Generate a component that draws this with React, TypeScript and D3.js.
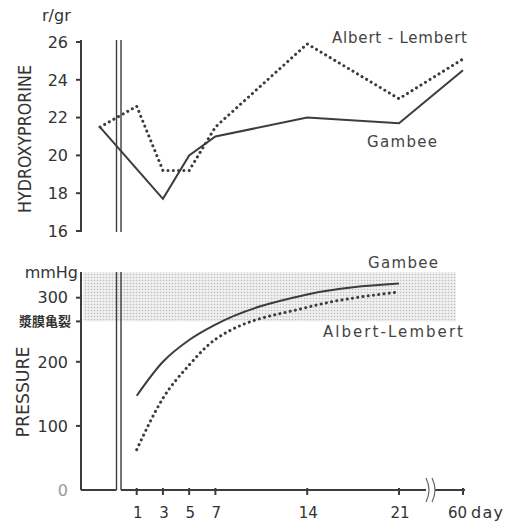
import React from "react";
import * as d3 from "d3";

// ---- data ----
const dayPos = [0, 1, 3, 5, 7, 14, 21, 60]; // 0 = pre-operative value
const dayLabels = ["", "1", "3", "5", "7", "14", "21", "60"];
const hypGambee: (number | null)[] = [21.5, null, 17.7, 20.0, 21.0, 22.0, 21.7, 24.5];
const hypAlbert: (number | null)[] = [21.5, 22.6, 19.2, 19.2, 21.5, 25.9, 23.0, 25.1];
const presGambee: (number | null)[] = [null, 147, 200, 234, 258, 305, 322, null];
const presAlbert: (number | null)[] = [null, 63, 143, 195, 235, 285, 309, null];
const hypTicks = [16, 18, 20, 22, 24, 26];
const presTicks = [0, 100, 200, 300];
const serosaValue = 263;
const presTop = 340;
const serosaLabel = "漿膜亀裂";

const INK = "#3c3c3c";
const TXT = "#333";
const FONT = "'DejaVu Sans', sans-serif";

export default function App() {
  const x = d3.scaleLinear().domain([0, 1, 21, 60]).range([100, 136.7, 399, 463]);
  const yTop = d3.scaleLinear().domain([16, 26]).range([231, 42]);
  const yBot = d3.scaleLinear().domain([0, 300]).range([490, 297.7]);

  const mk = (vals: (number | null)[], y: d3.ScaleLinear<number, number>, curve: d3.CurveFactory) => {
    const pts = dayPos
      .map((d, i) => [d, vals[i]] as [number, number | null])
      .filter((p) => p[1] != null) as [number, number][];
    return (
      d3
        .line<[number, number]>()
        .x((p) => x(p[0]))
        .y((p) => y(p[1]))
        .curve(curve)(pts) || ""
    );
  };

  const axisX = 81;
  const dbl1 = 116.5;
  const dbl2 = 121;
  const topY0 = yTop(26) - 2;
  const topY1 = yTop(16) + 1;
  const botY0 = yBot(presTop);
  const botY1 = yBot(0);
  const breakX = 428;

  const dotted = { strokeDasharray: "0.1 5.2", strokeLinecap: "round" as const, strokeWidth: 3 };

  return (
    <svg width={510} height={523} style={{ position: "absolute", left: 0, top: 0, background: "#fff" }} fontFamily={FONT}>
      <defs>
        <pattern id="stip" width={3} height={3} patternUnits="userSpaceOnUse">
          <rect width={3} height={3} fill="#f0f0f0" />
          <circle cx={1.5} cy={1.5} r={0.8} fill="#bdbdbd" />
        </pattern>
      </defs>

      {/* ---------- top panel ---------- */}
      <text x={42} y={21} fontSize={16} fill={TXT}>r/gr</text>
      <text
        transform={`translate(31,139) rotate(-90)`}
        textAnchor="middle"
        fontSize={17}
        fill={TXT}
        textLength={148}
        lengthAdjust="spacingAndGlyphs"
      >
        HYDROXYPRORINE
      </text>
      <line x1={axisX} x2={axisX} y1={topY0} y2={topY1} stroke={INK} strokeWidth={2} />
      {hypTicks.map((t) => (
        <g key={t}>
          <line x1={axisX - 5} x2={axisX} y1={yTop(t)} y2={yTop(t)} stroke={INK} strokeWidth={2} />
          <text x={68} y={yTop(t)} dy="0.36em" textAnchor="end" fontSize={16} fill={TXT}>
            {t}
          </text>
        </g>
      ))}
      <path d={mk(hypGambee, yTop, d3.curveLinear)} fill="none" stroke={INK} strokeWidth={2} />
      <path d={mk(hypAlbert, yTop, d3.curveLinear)} fill="none" stroke={INK} {...dotted} />
      <line x1={dbl1} x2={dbl1} y1={topY0} y2={topY1} stroke={INK} strokeWidth={1.4} />
      <line x1={dbl2} x2={dbl2} y1={topY0} y2={topY1} stroke={INK} strokeWidth={1.4} />
      <text x={332} y={43} fontSize={15} fill="#444" textLength={135} lengthAdjust="spacing">
        Albert - Lembert
      </text>
      <text x={367} y={147} fontSize={15} fill="#444" textLength={70} lengthAdjust="spacing">
        Gambee
      </text>

      {/* ---------- bottom panel ---------- */}
      <rect x={axisX + 2} y={botY0} width={456 - axisX - 2} height={yBot(serosaValue) - botY0} fill="url(#stip)" />
      <text x={78} y={botY0 + 6} textAnchor="end" fontSize={16} fill={TXT}>mmHg</text>
      <text
        transform={`translate(29,392) rotate(-90)`}
        textAnchor="middle"
        fontSize={17}
        fill={TXT}
        textLength={91}
        lengthAdjust="spacingAndGlyphs"
      >
        PRESSURE
      </text>
      <line x1={axisX} x2={axisX} y1={botY0} y2={botY1} stroke={INK} strokeWidth={2} />
      {presTicks.map((t) => (
        <g key={t}>
          {t > 0 && <line x1={axisX - 5} x2={axisX} y1={yBot(t)} y2={yBot(t)} stroke={INK} strokeWidth={2} />}
          <text x={68} y={yBot(t)} dy="0.36em" textAnchor="end" fontSize={16} fill={t === 0 ? "#999" : TXT}>
            {t}
          </text>
        </g>
      ))}
      <line x1={axisX - 5} x2={axisX} y1={yBot(serosaValue)} y2={yBot(serosaValue)} stroke={INK} strokeWidth={2} />
      <text
        x={71}
        y={yBot(serosaValue)}
        dy="0.36em"
        textAnchor="end"
        fontSize={13}
        fontWeight="bold"
        fontFamily="'Noto Sans CJK JP', sans-serif"
        fill={TXT}
      >
        {serosaLabel}
      </text>

      <path d={mk(presGambee, yBot, d3.curveMonotoneX)} fill="none" stroke={INK} strokeWidth={2} />
      <path d={mk(presAlbert, yBot, d3.curveMonotoneX)} fill="none" stroke={INK} {...dotted} />

      {/* x axis */}
      <line x1={axisX} x2={dbl1} y1={botY1} y2={botY1} stroke={INK} strokeWidth={2} />
      <line x1={dbl2} x2={breakX - 2} y1={botY1} y2={botY1} stroke={INK} strokeWidth={2} />
      <line x1={breakX + 7} x2={x(60) + 2} y1={botY1} y2={botY1} stroke={INK} strokeWidth={2} />
      {[0, 6].map((o) => (
        <path
          key={o}
          d={`M${breakX - 2 + o},${botY1 - 12} Q${breakX + 4 + o},${botY1} ${breakX - 2 + o},${botY1 + 12}`}
          fill="none"
          stroke="#666"
          strokeWidth={1.2}
        />
      ))}
      {dayPos.slice(1).map((d, i) => (
        <g key={d}>
          <line x1={x(d)} x2={x(d)} y1={botY1 - 2} y2={botY1 + 5} stroke={INK} strokeWidth={2} />
          <text
            x={d === 60 ? x(d) + 4 : x(d) + 1}
            y={518}
            textAnchor={d === 60 ? "end" : "middle"}
            fontSize={15}
            fill={TXT}
          >
            {dayLabels[i + 1]}
          </text>
        </g>
      ))}
      <text x={471} y={518} fontSize={16} fill={TXT} textLength={32} lengthAdjust="spacing">day</text>

      <line x1={dbl1} x2={dbl1} y1={botY0} y2={botY1} stroke={INK} strokeWidth={1.4} />
      <line x1={dbl2} x2={dbl2} y1={botY0} y2={botY1} stroke={INK} strokeWidth={1.4} />

      <text x={368} y={268} fontSize={15} fill="#444" textLength={70} lengthAdjust="spacing">
        Gambee
      </text>
      <text x={323} y={337} fontSize={15} fill="#444" textLength={140} lengthAdjust="spacing">
        Albert-Lembert
      </text>
    </svg>
  );
}
